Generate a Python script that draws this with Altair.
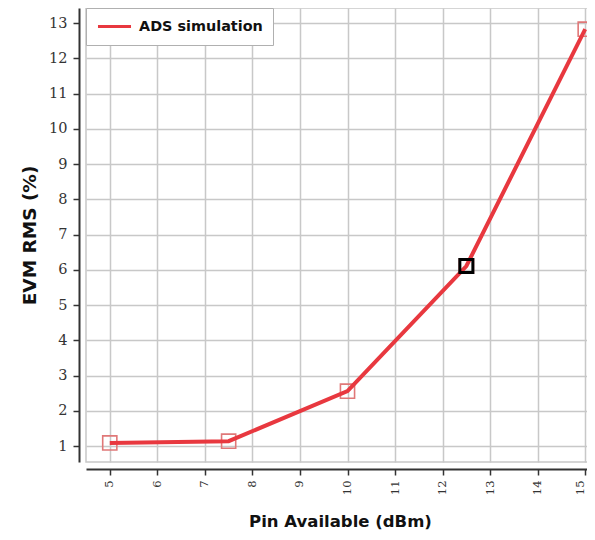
import altair as alt
import pandas as pd

pin_dbm = [5, 7.5, 10, 12.5, 15]
evm_rms = [1.09, 1.14, 2.56, 6.11, 12.83]
series_name = ["ADS simulation"] * len(pin_dbm)

marker_x = [12.5]
marker_y = [6.11]

x_ticks = [5, 6, 7, 8, 9, 10, 11, 12, 13, 14, 15]
y_ticks = [1, 2, 3, 4, 5, 6, 7, 8, 9, 10, 11, 12, 13]

df = pd.DataFrame({"pin": pin_dbm, "evm": evm_rms, "series": series_name})
dm = pd.DataFrame({"pin": marker_x, "evm": marker_y})

xscale = alt.Scale(domain=[4.5, 15.5], nice=False, zero=False)
yscale = alt.Scale(domain=[0.55, 13.43], nice=False, zero=False)

xaxis = alt.Axis(
    title="Pin Available (dBm)", values=x_ticks, labelAngle=270, labelAlign="right",
    labelBaseline={"condition": {"test": "datum.value >= 15", "value": "bottom"}, "value": "middle"},
    offset=7, tickSize=6, labelPadding=5, titlePadding=19, titleX=254,
    labelOverlap=False, titleFontSize=16.5, labelFontSize=11.5,
)
yaxis = alt.Axis(
    title="EVM RMS (%)", values=y_ticks, offset=7, tickSize=6, labelPadding=6,
    titlePadding=9, labelOverlap=False, titleFontSize=18.5, labelFontSize=14.5,
)

line = alt.Chart(df).mark_line(strokeWidth=4, clip=True).encode(
    x=alt.X("pin:Q", scale=xscale, axis=xaxis),
    y=alt.Y("evm:Q", scale=yscale, axis=yaxis),
    color=alt.Color(
        "series:N",
        scale=alt.Scale(domain=["ADS simulation"], range=["#e8383f"]),
        legend=alt.Legend(
            title=None, orient="none", legendX=0, legendY=0, symbolType="stroke",
            symbolSize=1090, symbolStrokeWidth=3, padding=10, clipHeight=17,
            fillColor="white", strokeColor="#b0b0b0", labelFont="DejaVu Sans",
            labelFontWeight="bold", labelFontSize=14.4, labelColor="#111", labelOffset=6,
        ),
    ),
)

squares = alt.Chart(df).mark_point(
    shape="square", size=200, filled=False, color="#e07878", strokeWidth=1.6, opacity=1
).encode(x=alt.X("pin:Q", scale=xscale, axis=xaxis), y=alt.Y("evm:Q", scale=yscale, axis=yaxis))

marker = alt.Chart(dm).mark_point(
    shape="square", size=170, filled=False, color="#000000", strokeWidth=3, opacity=1
).encode(x=alt.X("pin:Q", scale=xscale, axis=xaxis), y=alt.Y("evm:Q", scale=yscale, axis=yaxis))

chart = (
    alt.layer(squares, line, marker)
    .properties(
        width=523, height=454,
        autosize=alt.AutoSizeParams(type="none"),
        padding={"left": 78, "top": 0, "right": -22, "bottom": 70},
    )
    .configure_view(stroke="#c8c8c8", strokeWidth=1.5)
    .configure_axis(
        grid=True, gridColor="#c8c8c8", gridWidth=1.5, labelOverlap=False,
        domainColor="#333333", domainWidth=2, tickColor="#333333", tickWidth=1.5,
        labelFont="DejaVu Serif", labelColor="#333333",
        titleFont="DejaVu Sans", titleFontWeight="bold", titleColor="#111111",
    )
)

chart.save("out.html", embed_options={"renderer": "svg", "actions": False})
